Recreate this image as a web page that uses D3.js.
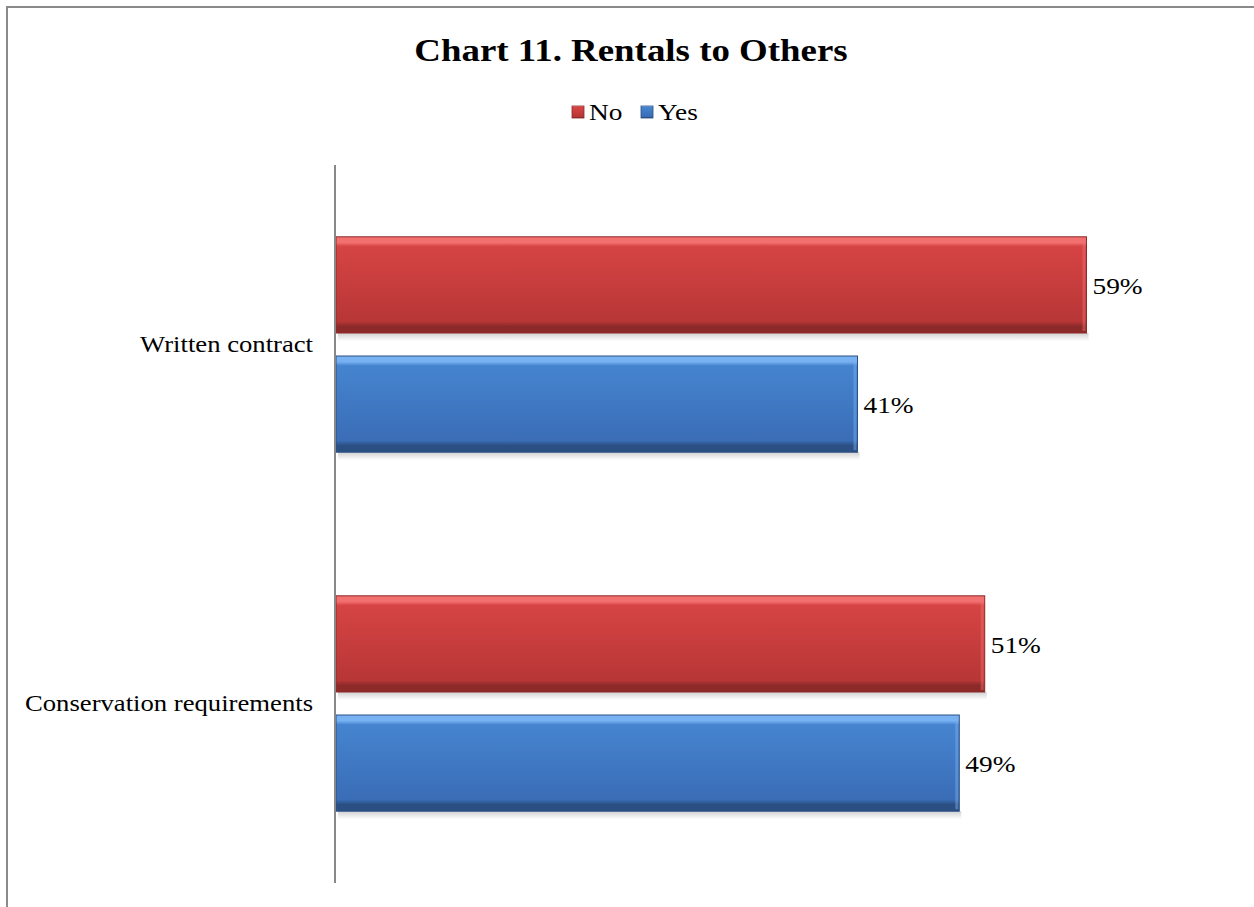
<!DOCTYPE html>
<html>
<head>
<meta charset="utf-8">
<script src="https://cdn.jsdelivr.net/npm/d3@7"></script>
<style>
  html, body { margin: 0; padding: 0; background: #fff; }
  svg { display: block; }
  text { font-family: "Liberation Serif", "Times New Roman", serif; fill: #000; }
</style>
</head>
<body>
<svg id="chart" width="1254" height="907"></svg>
<script>
// Survey answers about renting land to others (percent of respondents)
const categories = ["Written contract", "Conservation requirements"];
const seriesNames = ["No", "Yes"];
const noValues = [59, 51];
const yesValues = [41, 49];
const chartTitle = "Chart 11. Rentals to Others";

const svg = d3.select("#chart");
const W = 1254, H = 907;
const stretch = 1.19; // wide text face

const colors = {
  No:  { top: "#f27070", mid: "#d64444", low: "#b83636", edge: "#8c2a2a" },
  Yes: { top: "#78b2f2", mid: "#4684d0", low: "#3a6db6", edge: "#2b4f82" }
};

// Gradients for the bevelled bar look
const defs = svg.append("defs");
seriesNames.forEach(s => {
  const c = colors[s];
  const g = defs.append("linearGradient").attr("id", "grad-" + s)
    .attr("x1", 0).attr("y1", 0).attr("x2", 0).attr("y2", 1);
  g.append("stop").attr("offset", "0%").attr("stop-color", c.top);
  g.append("stop").attr("offset", "6%").attr("stop-color", c.top);
  g.append("stop").attr("offset", "10%").attr("stop-color", c.mid);
  g.append("stop").attr("offset", "88%").attr("stop-color", c.low);
  g.append("stop").attr("offset", "93%").attr("stop-color", c.edge);
  g.append("stop").attr("offset", "100%").attr("stop-color", c.edge);
});
const sh = defs.append("linearGradient").attr("id", "shadow")
  .attr("x1", 0).attr("y1", 0).attr("x2", 0).attr("y2", 1);
sh.append("stop").attr("offset", "0%").attr("stop-color", "#bdbdbd");
sh.append("stop").attr("offset", "100%").attr("stop-color", "#ffffff");

// Outer frame (left and top edges visible)
svg.append("line").attr("x1", 7).attr("y1", 7).attr("x2", 7).attr("y2", H)
  .attr("stroke", "#8a8a8a").attr("stroke-width", 2);
svg.append("line").attr("x1", 6).attr("y1", 7).attr("x2", W).attr("y2", 7)
  .attr("stroke", "#8a8a8a").attr("stroke-width", 2);

// helper: text placed at (x, y) with a horizontally widened face
function wideText(parent, x0, y0, str, size, anchor, bold) {
  return parent.append("text")
    .attr("transform", `translate(${x0},${y0}) scale(${stretch},1)`)
    .attr("text-anchor", anchor || "start")
    .style("font-size", size + "px")
    .style("font-weight", bold ? "bold" : "normal")
    .text(str);
}

// Title
wideText(svg, 631, 61, chartTitle, 31, "middle", true);

// Scales
const plot = { left: 336, top: 165, bottom: 883 };
const x = d3.scaleLinear().domain([0, 70]).range([plot.left, plot.left + 70 * 12.72]);
const y = d3.scaleBand().domain(categories).range([plot.top, plot.bottom])
  .paddingInner(0.4).paddingOuter(0.2);
const ySub = d3.scaleBand().domain(seriesNames).range([0, y.bandwidth()])
  .paddingInner(0.193);

// Legend
const legend = svg.append("g").attr("transform", "translate(0,112)");
const legendItems = [{ name: "No", x: 572 }, { name: "Yes", x: 641 }];
legendItems.forEach(it => {
  const c = colors[it.name];
  legend.append("rect").attr("x", it.x).attr("y", -6).attr("width", 12).attr("height", 12)
    .attr("fill", "url(#grad-" + it.name + ")").attr("stroke", c.edge).attr("stroke-width", 0.8);
  wideText(legend, it.x + 17, 8, it.name, 23, "start", false);
});

// Rows of data
const rows = [];
categories.forEach((cat, i) => {
  rows.push({ cat, series: "No", value: noValues[i] });
  rows.push({ cat, series: "Yes", value: yesValues[i] });
});

const bars = svg.append("g").selectAll("g.bar").data(rows).join("g").attr("class", "bar")
  .attr("transform", d => `translate(0,${y(d.cat) + ySub(d.series)})`);

// soft shadow beneath each bar
bars.append("rect")
  .attr("x", x(0) + 2)
  .attr("y", ySub.bandwidth())
  .attr("width", d => x(d.value) - x(0))
  .attr("height", 8)
  .attr("fill", "url(#shadow)").attr("opacity", 0.7);

bars.append("rect")
  .attr("x", x(0))
  .attr("y", 0)
  .attr("width", d => x(d.value) - x(0))
  .attr("height", ySub.bandwidth())
  .attr("fill", d => `url(#grad-${d.series})`)
  .attr("stroke", d => colors[d.series].edge).attr("stroke-width", 1);

// right-edge bevel highlight
bars.append("rect")
  .attr("x", d => x(d.value) - 4)
  .attr("y", 2)
  .attr("width", 3)
  .attr("height", ySub.bandwidth() - 4)
  .attr("fill", d => colors[d.series].top).attr("opacity", 0.45);

// value labels
bars.each(function (d) {
  wideText(d3.select(this), x(d.value) + 6, ySub.bandwidth() / 2 + 9, d.value + "%", 23, "start", false);
});

// Category axis
const pad = 22;
const catStretch = 1.16;
const yAxis = d3.axisLeft(y).tickSize(0).tickPadding(pad);
const axisG = svg.append("g").attr("transform", `translate(${plot.left - 1},0)`).call(yAxis);
axisG.select(".domain").attr("stroke", "#888").attr("stroke-width", 2)
  .attr("d", `M0,${plot.top}V${plot.bottom}`);
axisG.selectAll(".tick text")
  .style("font-family", "'Liberation Serif', 'Times New Roman', serif")
  .style("font-size", "23px").attr("fill", "#000").attr("dy", "0.32em")
  .attr("x", -pad / catStretch)
  .attr("transform", `scale(${catStretch},1)`);
</script>
</body>
</html>
